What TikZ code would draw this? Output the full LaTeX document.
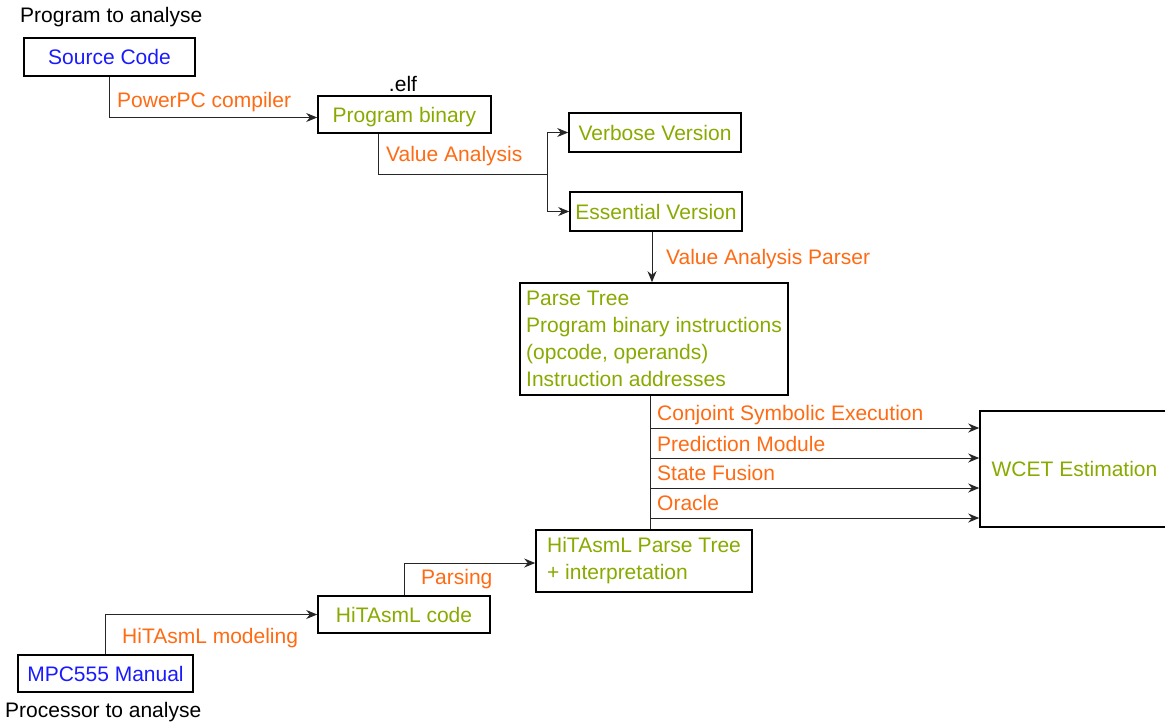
\documentclass[tikz,border=0pt]{standalone}
\usepackage{fontspec}
\setmainfont{Liberation Sans}
\usepackage{xcolor}
\usetikzlibrary{arrows, arrows.meta, positioning, calc}
\definecolor{srcblue}{RGB}{26,26,255}
\definecolor{stepgreen}{RGB}{136,170,0}
\definecolor{toolorange}{RGB}{255,106,19}

\begin{document}
\begin{tikzpicture}[x=1pt, y=-1pt, font=\fontsize{21}{27}\selectfont]
    \tikzstyle{box} = [rectangle, draw=black, line width=1.6pt, inner sep=0pt, text=stepgreen, align=left]
    \tikzstyle{onebox} = [box, text height=17pt, text depth=2pt]
    \tikzstyle{arrow} = [line width=1pt, draw=black!85, -{Stealth[length=11pt,width=9pt]}]
    \tikzstyle{link} = [line width=1pt, draw=black!85]
    \tikzstyle{tool} = [anchor=west, inner sep=0pt, text=toolorange]
    \tikzstyle{note} = [anchor=west, inner sep=0pt]

    \useasboundingbox (0,0) rectangle (1165,724);

    % program side
    \node[onebox, text=srcblue, minimum width=171, minimum height=38] (src) at (109.5,57) {Source Code};
    \node[onebox, minimum width=173, minimum height=37] (bin) at (404.5,114.5) {Program binary};
    \node[onebox, minimum width=172, minimum height=39] (verbose) at (655,132.5) {Verbose Version};
    \node[onebox, minimum width=172, minimum height=39] (essential) at (656,211.5) {Essential Version};
    \node[box, minimum width=268, minimum height=112] (parsetree) at (654,339)
        {Parse Tree\\Program binary instructions\\(opcode, operands)\\Instruction addresses};
    \node[onebox, minimum width=189, minimum height=116] (wcet) at (1074.5,469) {WCET Estimation};

    % processor side
    \node[box, minimum width=216, minimum height=62] (hitree) at (644,561) {HiTAsmL Parse Tree\\+ interpretation};
    \node[onebox, minimum width=172, minimum height=37] (hicode) at (404,614.5) {HiTAsmL code};
    \node[onebox, text=srcblue, minimum width=175, minimum height=37] (manual) at (105.5,673.5) {MPC555 Manual};

    \node[note] (progtitle) at (20,17) {Program to analyse};
    \node[note] (proctitle) at (5,712) {Processor to analyse};
    \node[inner sep=0pt] (elf) at (403,84) {.elf};

    % connectors
    \draw[arrow] (src) |- ([yshift=-3pt]bin.west);
    \coordinate (split) at (547,174);
    \draw[link] ([xshift=-26pt]bin.south) |- (split);
    \draw[arrow] (split) |- (verbose);
    \draw[arrow] (split) |- (essential);
    \draw[arrow] ([xshift=-4pt]essential.south) -- ([xshift=-4pt]essential.south |- parsetree.north);
    \draw[link] ([xshift=-4pt]parsetree.south) -- ([xshift=-4pt]parsetree.south |- hitree.north);
    \foreach \y [count=\i] in {428,458,488,518} {
        \coordinate (tap\i) at (650,\y);
        \draw[arrow] (tap\i) -- (tap\i -| wcet.west);
    }
    \draw[arrow] (manual) |- (hicode);
    \draw[arrow] (hicode) |- ([yshift=-2pt]hitree.west);

    % step labels
    \node[tool] (compile) at (117,102) {PowerPC compiler};
    \node[tool] (valan) at (386,156) {Value Analysis};
    \node[tool] (valparse) at (666,259) {Value Analysis Parser};
    \node[tool] (cse) at (657,415) {Conjoint Symbolic Execution};
    \node[tool] (pred) at (657,444) {Prediction Module};
    \node[tool] (fusion) at (657,473) {State Fusion};
    \node[tool] (oracle) at (657,503) {Oracle};
    \node[tool] (parsing) at (421,579) {Parsing};
    \node[tool] (modeling) at (122,638) {HiTAsmL modeling};
\end{tikzpicture}
\end{document}
